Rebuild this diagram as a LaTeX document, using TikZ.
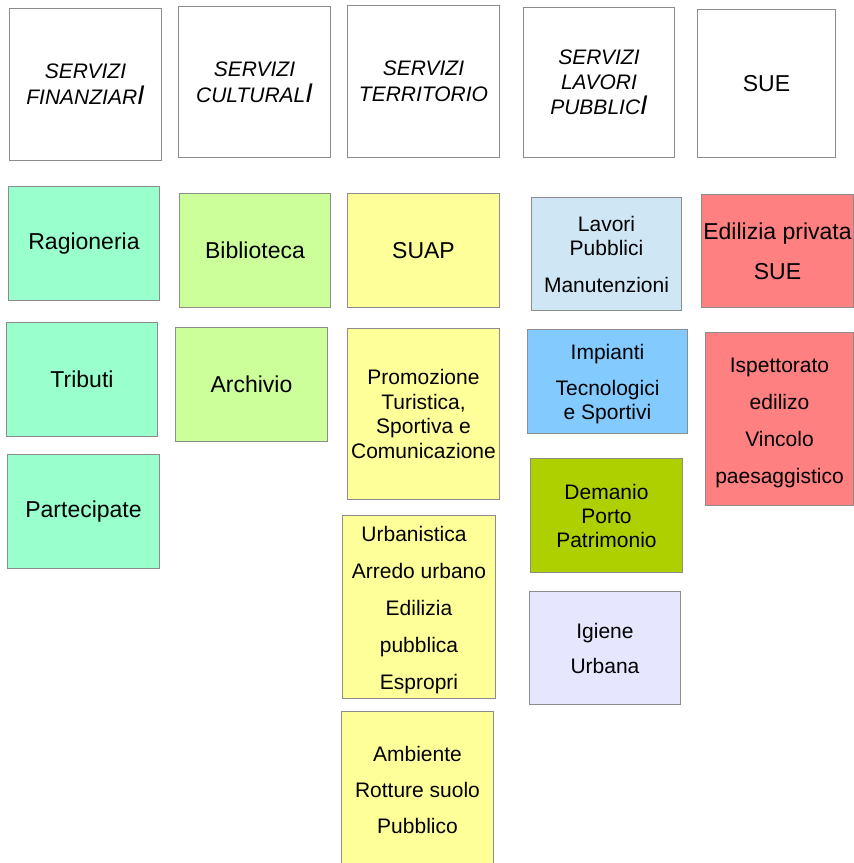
\documentclass[tikz,border=0pt]{standalone}
\usepackage{fontspec}
\setmainfont{Liberation Sans}
\definecolor{boxgray}{HTML}{8C8C8C}
\definecolor{mint}{HTML}{99FFCC}
\definecolor{lgreen}{HTML}{CCFF99}
\definecolor{lyellow}{HTML}{FFFF99}
\definecolor{lblue}{HTML}{CFE7F5}
\definecolor{skyblue}{HTML}{83CAFF}
\definecolor{olive}{HTML}{AFD000}
\definecolor{lavender}{HTML}{E6E6FF}
\definecolor{salmon}{HTML}{FF8080}
\tikzset{
  box/.style={draw=boxgray, line width=1pt, anchor=north west, inner sep=0pt, align=center, text=black},
  hdr/.style={box, fill=white, font=\fontsize{21}{26}\selectfont\itshape},
  big/.style={font=\fontsize{23}{27}\selectfont},
  small/.style={font=\fontsize{21}{24}\selectfont},
}
\newcommand{\bigI}{{\fontsize{27}{26}\selectfont I}}
\newcommand{\topstrut}[1]{\rule{0pt}{#1}}
\begin{document}
\begin{tikzpicture}[x=1pt,y=1pt]
\useasboundingbox (0,0) rectangle (854,-863);
\fill[white] (0,0) rectangle (854,-863);
% headers
\node[hdr, minimum width=152, minimum height=152] (hfin) at (9,-8) {SERVIZI\\FINANZIAR\bigI};
\node[hdr, minimum width=152, minimum height=151] (hcul) at (178,-6) {SERVIZI\\CULTURAL\bigI};
\node[hdr, minimum width=152, minimum height=152] (hter) at (347,-5) {SERVIZI\\TERRITORIO};
\node[hdr, minimum width=151, minimum height=150, font=\fontsize{21}{25}\selectfont\itshape] (hlav) at (523,-7) {SERVIZI\\LAVORI\\PUBBLIC\bigI};
\node[hdr, minimum width=138, minimum height=148, font=\fontsize{23}{26}\selectfont] (hsue) at (697,-9) {SUE};
% column 1
\node[box, big, fill=mint, minimum width=151, minimum height=114] (rag) at (8,-186) {Ragioneria};
\node[box, big, fill=mint, minimum width=151, minimum height=114] (tri) at (6,-322) {Tributi};
\node[box, big, fill=mint, minimum width=152, minimum height=114] (par) at (7,-454) {Partecipate};
% column 2
\node[box, big, fill=lgreen, minimum width=151, minimum height=114] (bib) at (179,-193) {Biblioteca};
\node[box, big, fill=lgreen, minimum width=152, minimum height=114] (arc) at (175,-327) {Archivio};
% column 3
\node[box, big, fill=lyellow, minimum width=152, minimum height=114] (suap) at (347,-193) {SUAP};
\node[box, fill=lyellow, font=\fontsize{21}{24.5}\selectfont, minimum width=152, minimum height=171] (pro) at (347,-328) {Promozione\\Turistica,\\Sportiva e\\Comunicazione};
\node[box, small, fill=lyellow, minimum width=153, minimum height=183] (urb) at (342,-515) {\topstrut{21pt}Urbanistica\kern10pt\null\\[13pt]Arredo urbano\\[13pt]Edilizia\\[13pt]pubblica\\[13pt]Espropri};
\node[box, small, fill=lyellow, minimum width=152, minimum height=156] (amb) at (341,-711) {Ambiente\\[12pt]Rotture suolo\\[12pt]Pubblico};
% column 4
\node[box, small, fill=lblue, minimum width=150, minimum height=113] (lav) at (531,-197) {Lavori\\Pubblici\\[13pt]Manutenzioni};
\node[box, small, fill=skyblue, minimum width=160, minimum height=104] (imp) at (527,-329) {\topstrut{21pt}Impianti\\[12pt]Tecnologici\\e Sportivi};
\node[box, small, fill=olive, minimum width=152, minimum height=114] (dem) at (530,-458) {Demanio\\Porto\\Patrimonio};
\node[box, small, fill=lavender, minimum width=151, minimum height=113] (igi) at (529,-591) {Igiene\\[11pt]Urbana};
% column 5
\node[box, fill=salmon, font=\fontsize{23}{27}\selectfont, minimum width=152, minimum height=113] (edi) at (701,-194) {Edilizia privata\\[13pt]SUE};
\node[box, small, fill=salmon, minimum width=148, minimum height=173] (isp) at (705,-332) {\topstrut{23pt}Ispettorato\\[13pt]edilizo\\[13pt]Vincolo\\[13pt]paesaggistico};
\end{tikzpicture}
\end{document}
